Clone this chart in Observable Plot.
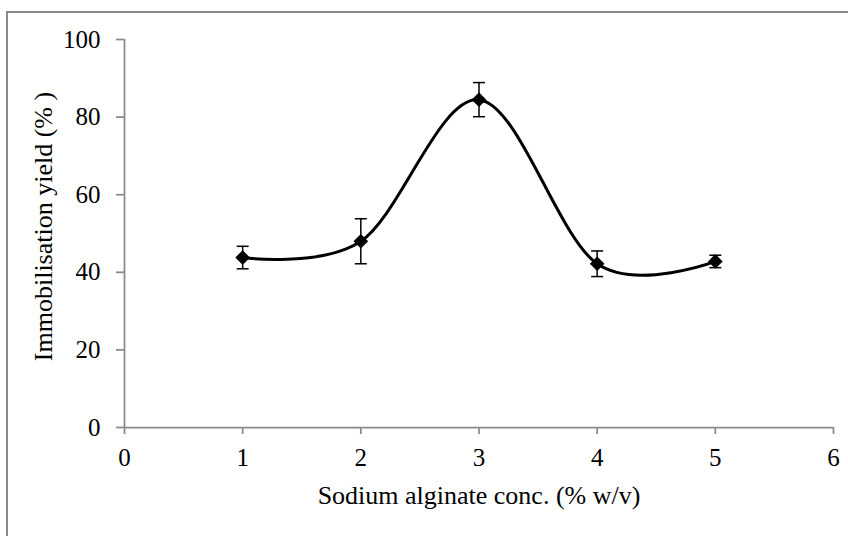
<!DOCTYPE html>
<html>
<head>
<meta charset="utf-8">
<script src="https://cdn.jsdelivr.net/npm/d3@7"></script>
<script src="https://cdn.jsdelivr.net/npm/@observablehq/plot@0.6"></script>
<style>
  html, body { margin: 0; padding: 0; background: #fff; overflow: hidden; }
  #wrap { position: relative; width: 848px; height: 536px; overflow: hidden; }
  #border { position: absolute; left: 6px; top: 11px; width: 860px; height: 600px;
            border-left: 2px solid #8a8a8a; border-top: 2px solid #8a8a8a; box-sizing: border-box; }
  #chart { position: absolute; left: 0; top: 0; }
</style>
</head>
<body>
<div id="wrap"><div id="border"></div><div id="chart"></div></div>
<script>
// Data
const conc = [1, 2, 3, 4, 5];
const yieldPct = [43.8, 48.0, 84.5, 42.2, 42.8];
const errBar = [2.9, 5.8, 4.4, 3.3, 1.6];
const xTicks = [0, 1, 2, 3, 4, 5, 6];
const yTicks = [0, 20, 40, 60, 80, 100];
const xLabel = "Sodium alginate conc. (% w/v)";
const yLabel = "Immobilisation yield (% )";

const data = conc.map((c, i) => ({x: c, y: yieldPct[i], lo: yieldPct[i] - errBar[i], hi: yieldPct[i] + errBar[i]}));

const font = "'Liberation Serif', 'Times New Roman', serif";
const fs = 25;
const fsTitle = 26;
const axisColor = "#8a8a8a";

const capSymbol = {
  draw(context) {
    context.moveTo(-6, 0);
    context.lineTo(6, 0);
  }
};

const chart = Plot.plot({
  width: 848,
  height: 536,
  marginLeft: 124,
  marginTop: 39,
  marginRight: 15,
  marginBottom: 109,
  style: {fontFamily: font, fontSize: fs + "px", color: "black", background: "transparent"},
  x: {domain: [0, 6]},
  y: {domain: [0, 100]},
  marks: [
    Plot.axisY({ticks: yTicks, tickSize: 8, tickPadding: 16, stroke: axisColor, strokeWidth: 1.75, fill: "black", fontSize: fs, label: null, tickFormat: d => String(d)}),
    Plot.axisX({ticks: xTicks, tickSize: 7, tickPadding: 14, stroke: axisColor, strokeWidth: 1.75, fill: "black", fontSize: fs, label: null, tickFormat: d => String(d)}),
    Plot.ruleX([0], {stroke: axisColor, strokeWidth: 1.75}),
    Plot.ruleY([0], {stroke: axisColor, strokeWidth: 1.75}),
    Plot.line(data, {x: "x", y: "y", curve: "cardinal", stroke: "black", strokeWidth: 3}),
    Plot.dot(data, {x: "x", y: "y", symbol: "diamond2", r: 6.6, fill: "black", stroke: "none"}),
    Plot.ruleX(data, {x: "x", y1: "lo", y2: "hi", stroke: "black", strokeWidth: 1.5}),
    Plot.dot(data, {x: "x", y: "hi", symbol: capSymbol, stroke: "black", strokeWidth: 1.5, fill: "none"}),
    Plot.dot(data, {x: "x", y: "lo", symbol: capSymbol, stroke: "black", strokeWidth: 1.5, fill: "none"}),
    Plot.text([xLabel], {frameAnchor: "bottom", dy: 76, fontSize: fsTitle, fill: "black"}),
    Plot.text([yLabel], {frameAnchor: "left", textAnchor: "middle", rotate: -90, dx: -81, dy: -7, fontSize: fsTitle, fill: "black"})
  ]
});
document.getElementById("chart").appendChild(chart);
</script>
</body>
</html>
